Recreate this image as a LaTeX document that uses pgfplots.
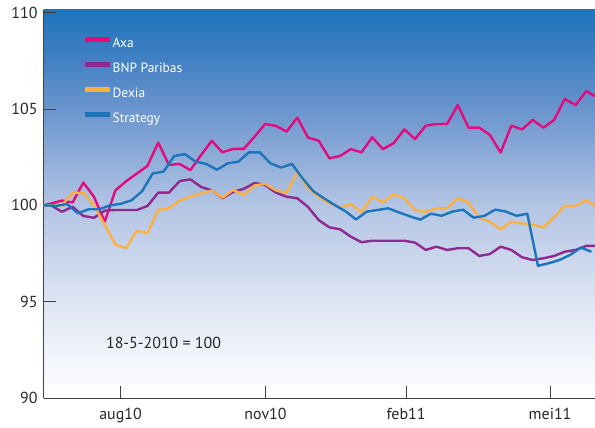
\documentclass[border=0pt]{standalone}
\usepackage{fontspec}
\setmainfont{PT Sans}
\usepackage{pgfplots}
\pgfplotsset{compat=1.18}
\definecolor{axa}{HTML}{E5097F}
\definecolor{bnp}{HTML}{8E2A8E}
\definecolor{dexia}{HTML}{FBB040}
\definecolor{strat}{HTML}{1C75BC}
\definecolor{bgtop}{HTML}{1F74BB}
\definecolor{bg0}{HTML}{4180C3}
\definecolor{bg1}{HTML}{6994CD}
\definecolor{bg2}{HTML}{B2C4E4}
\definecolor{bg3}{HTML}{DEE5F3}
\pgfdeclareverticalshading{bgshade}{100bp}{color(0bp)=(white); color(25bp)=(white); color(37.5bp)=(bg3); color(50bp)=(bg2); color(62.5bp)=(bg1); color(68.75bp)=(bg0); color(75bp)=(bgtop); color(100bp)=(bgtop)}
\begin{document}
\begin{tikzpicture}
\begin{axis}[
  scale only axis, width=551.5bp, height=388.3bp,
  xmin=0.28, xmax=51.82, ymin=90, ymax=110.13,
  axis lines*=left,
  axis line style={draw=black!75, line width=0.8bp},
  xtick={7.48,21.03,34.16,47.62},
  xticklabels={aug10,nov10,feb11,mei11},
  ytick={90,95,100,105,110},
  tick align=inside, major tick length=12bp,
  tick style={draw=black!75, line width=0.8bp},
  ticklabel style={font=\fontsize{16}{18}\selectfont, text=black!85},
  yticklabel style={xshift=-2.5bp},
  xticklabel style={yshift=-6bp},
  /pgf/number format/assume math mode=true,
  axis background/.style={shading=bgshade},
  every axis plot/.append style={line width=2.4bp, line join=round},
  legend style={at={(0.0662,0.9356)}, anchor=north west, draw=none, fill=none,
    font=\fontsize{13.5}{16}\selectfont, text=white, row sep=12bp,
    nodes={inner sep=0bp, text height=10bp, text depth=3bp}},
  legend cell align=left,
  legend image code/.code={\draw[#1, line width=4.5bp, line cap=butt] (0bp,4bp) -- (25bp,4bp);},
]
\addplot[axa] coordinates {
(0.28,100) (1,100.1) (2,100.25) (3,100.15) (4,101.18) (5,100.45) (6,99.15) (7,100.78) (8,101.25) (9,101.65) (10,102.05) (11,103.25) (12,102.1) (13,102.15) (14,101.83) (15,102.6) (16,103.35) (17,102.75) (18,102.93) (19,102.93) (20,103.56) (21,104.22) (22,104.12) (23,103.83) (24,104.55) (25,103.52) (26,103.35) (27,102.44) (28,102.56) (29,102.92) (30,102.75) (31,103.53) (32,102.92) (33,103.22) (34,103.94) (35,103.44) (36,104.13) (37,104.22) (38,104.22) (39,105.2) (40,104.03) (41,104.03) (42,103.65) (43,102.74) (44,104.13) (45,103.94) (46,104.43) (47,104.03) (48,104.43) (49,105.52) (50,105.2) (51,105.93) (52,105.6)
};
\addlegendentry{Axa}
\addplot[bnp] coordinates {
(0.28,100) (1,100.0) (2,99.67) (3,99.93) (4,99.45) (5,99.36) (6,99.73) (7,99.76) (8,99.76) (9,99.76) (10,99.97) (11,100.66) (12,100.66) (13,101.26) (14,101.35) (15,100.96) (16,100.78) (17,100.37) (18,100.7) (19,100.86) (20,101.16) (21,101.06) (22,100.66) (23,100.45) (24,100.37) (25,99.92) (26,99.24) (27,98.86) (28,98.76) (29,98.38) (30,98.09) (31,98.17) (32,98.17) (33,98.17) (34,98.17) (35,98.07) (36,97.69) (37,97.86) (38,97.69) (39,97.78) (40,97.78) (41,97.38) (42,97.48) (43,97.86) (44,97.69) (45,97.31) (46,97.17) (47,97.26) (48,97.38) (49,97.6) (50,97.69) (51,97.9) (52,97.9)
};
\addlegendentry{BNP Paribas}
\addplot[dexia] coordinates {
(0.28,100) (1,100.0) (2,100.0) (3,100.65) (4,100.65) (5,100.0) (6,99.0) (7,97.96) (8,97.78) (9,98.69) (10,98.56) (11,99.76) (12,99.85) (13,100.25) (14,100.45) (15,100.62) (16,100.77) (17,100.4) (18,100.8) (19,100.54) (20,101.03) (21,101.12) (22,100.78) (23,100.65) (24,101.75) (25,100.9) (26,100.45) (27,100.1) (28,99.88) (29,100.07) (30,99.64) (31,100.45) (32,100.16) (33,100.58) (34,100.37) (35,99.76) (36,99.67) (37,99.85) (38,99.85) (39,100.37) (40,100.15) (41,99.36) (42,99.15) (43,98.76) (44,99.15) (45,99.07) (46,99.0) (47,98.86) (48,99.38) (49,99.98) (50,99.98) (51,100.26) (52,99.95)
};
\addlegendentry{Dexia}
\addplot[strat] coordinates {
(0.28,100) (0.49,100.0) (1.49,99.98) (2.49,100.07) (3.49,99.59) (4.49,99.8) (5.49,99.8) (6.49,100.0) (7.49,100.08) (8.49,100.26) (9.49,100.73) (10.49,101.66) (11.49,101.75) (12.49,102.56) (13.49,102.66) (14.49,102.27) (15.49,102.15) (16.49,101.85) (17.49,102.18) (18.49,102.27) (19.49,102.75) (20.49,102.75) (21.49,102.18) (22.49,101.96) (23.49,102.15) (24.49,101.4) (25.49,100.74) (26.49,100.37) (27.49,100.02) (28.49,99.7) (29.49,99.27) (30.49,99.68) (31.49,99.76) (32.49,99.85) (33.49,99.64) (34.49,99.44) (35.49,99.26) (36.49,99.57) (37.49,99.46) (38.49,99.68) (39.49,99.78) (40.49,99.36) (41.49,99.46) (42.49,99.78) (43.49,99.68) (44.49,99.46) (45.49,99.57) (46.49,96.87) (47.49,97.0) (48.49,97.17) (49.49,97.43) (50.49,97.81) (51.49,97.6)
};
\addlegendentry{Strategy}
\node[font=\fontsize{16}{18}\selectfont, text=black!85] at (axis cs:11.5,92.87) {18-5-2010 = 100};
\end{axis}
\pgfresetboundingbox
\path ([xshift=-43.5bp,yshift=-29.7bp]current axis.south west) rectangle ([yshift=10bp]current axis.north east);
\end{tikzpicture}
\end{document}
